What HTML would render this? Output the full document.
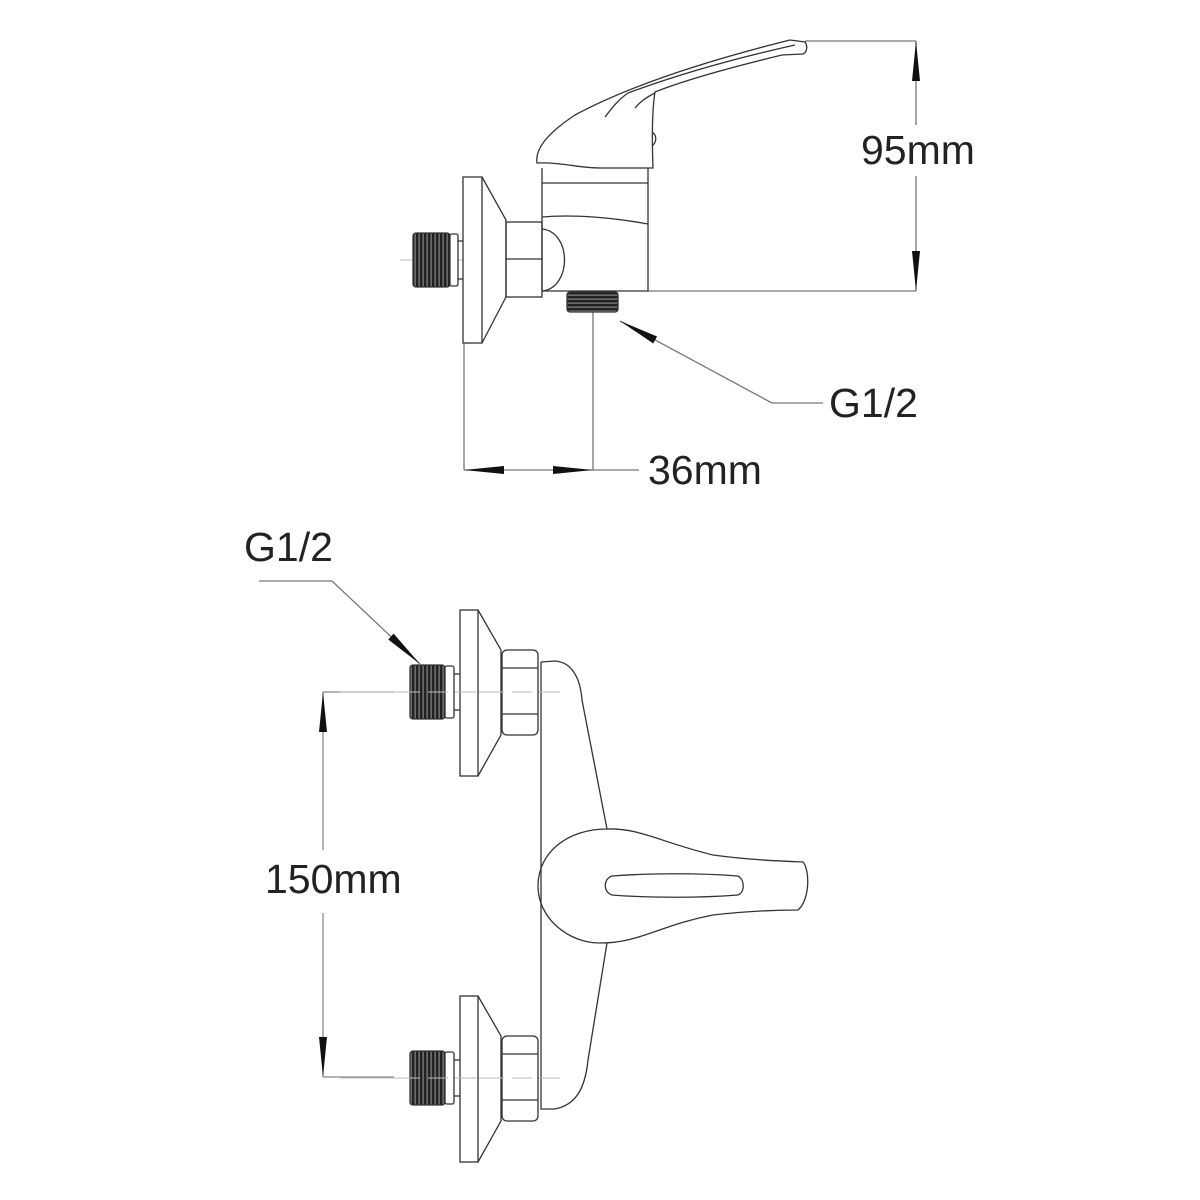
<!DOCTYPE html>
<html><head><meta charset="utf-8"><style>
html,body{margin:0;padding:0;background:#fff}
svg{display:block}
text{font-family:"Liberation Sans",sans-serif;font-size:41px;fill:#222}
</style></head><body>
<svg width="1200" height="1200" viewBox="0 0 1200 1200" xmlns="http://www.w3.org/2000/svg">
<defs>
<pattern id="vt" width="4" height="4" patternUnits="userSpaceOnUse"><rect width="4" height="4" fill="#222"/><rect x="2.6" width="1" height="4" fill="#999"/></pattern>
<pattern id="ht" width="4" height="4" patternUnits="userSpaceOnUse"><rect width="4" height="4" fill="#222"/><rect y="2.6" width="4" height="1" fill="#999"/></pattern>
<g id="fit" fill="none" stroke="#333" stroke-width="1.3">
  <line x1="340" y1="0" x2="560" y2="0" stroke="#bbb" stroke-width="1"/>
  <rect x="410" y="-27" width="35" height="54" rx="3" fill="url(#vt)"/>
  <rect x="445" y="-26" width="9" height="52" rx="2" fill="#fff"/>
  <line x1="454" y1="-18" x2="460" y2="-18"/><line x1="454" y1="18" x2="460" y2="18"/>
  <rect x="460" y="-82" width="18" height="166" fill="#fff"/>
  <polyline points="478,-82 501,-42 501,43 478,84"/>
  <rect x="502" y="-42" width="36" height="85" rx="5" fill="#fff"/>
  <line x1="502" y1="-24" x2="538" y2="-24"/><line x1="502" y1="22" x2="538" y2="22"/>
  <line x1="400" y1="0" x2="540" y2="0" stroke="#bbb" stroke-width="1" stroke-dasharray="20 8"/>
</g>
<marker id="ar" viewBox="0 0 40 10" refX="40" refY="5" markerWidth="40" markerHeight="10" markerUnits="userSpaceOnUse" orient="auto"><path d="M0,1 L40,5 L0,9 Z" fill="#111"/></marker>
</defs>

<!-- TOP VIEW -->
<g fill="none" stroke="#333" stroke-width="1.3">
  <line x1="805" y1="41" x2="916" y2="41" stroke="#777"/>
  <line x1="648" y1="291" x2="916" y2="291" stroke="#777"/>
  <line x1="916" y1="125" x2="916" y2="41" stroke="#777" marker-end="url(#ar)"/>
  <line x1="916" y1="176" x2="916" y2="291" stroke="#777" marker-end="url(#ar)"/>
  <line x1="464" y1="343" x2="464" y2="470" stroke="#777"/>
  <line x1="593" y1="312" x2="593" y2="470" stroke="#777"/>
  <line x1="593" y1="470" x2="639" y2="470" stroke="#777"/>
  <line x1="530" y1="470" x2="464" y2="470" stroke="#777" marker-end="url(#ar)"/>
  <line x1="530" y1="470" x2="593" y2="470" stroke="#777" marker-end="url(#ar)"/>
  <polyline points="823,403 772,403 620,321" stroke="#777" marker-end="url(#ar)"/>

  <line x1="400" y1="260" x2="470" y2="260" stroke="#ccc"/>
  <rect x="413" y="233" width="37" height="54" rx="3" fill="url(#vt)"/>
  <rect x="450" y="234" width="8" height="52" rx="2" fill="#fff"/>
  <line x1="458" y1="241" x2="463" y2="241"/><line x1="458" y1="279" x2="463" y2="279"/>
  <rect x="463" y="177" width="19" height="166" fill="#fff"/>
  <polyline points="482,177 506,220 506,297 482,343"/>
  <rect x="506" y="222" width="36" height="75"/>
  <line x1="506" y1="259" x2="542" y2="259"/>
  <path d="M542,229 C572,232 572,288 542,291"/>
  <path d="M542,168 L542,291 L648,291 L648,168"/>
  <line x1="542" y1="183" x2="648" y2="183"/>
  <path d="M542,217 C575,214 615,218 648,224"/>
  <rect x="567" y="292" width="51" height="20" rx="3" fill="url(#ht)"/>
  <path d="M537,163 C535,150 545,135 575,115 C640,80 730,55 790,40 L805,42 C808,46 807,52 803,54 L782,55 C720,70 680,82 655,92 C652,110 652,140 653,168 L600,168 C580,168 560,162 537,163 Z"/>
  <path d="M605,117 C612,108 618,100 628,93"/>
  <path d="M635,108 C640,102 645,98 655,93"/>
  <path d="M652,132 C657,135 657,142 652,146"/>
  <path d="M628,93 C690,70 750,55 795,45"/>
</g>
<text x="829" y="417">G1/2</text>
<text x="648" y="484">36mm</text>
<text x="861" y="164">95mm</text>

<!-- BOTTOM VIEW -->
<g fill="none" stroke="#333" stroke-width="1.3">
  <line x1="394" y1="692" x2="323" y2="692" stroke="#888"/>
  <line x1="394" y1="1077" x2="323" y2="1077" stroke="#888"/>
  <line x1="323" y1="850" x2="323" y2="692" stroke="#888" marker-end="url(#ar)"/>
  <line x1="323" y1="913" x2="323" y2="1077" stroke="#888" marker-end="url(#ar)"/>
  <polyline points="259,581 332,581 420,664" stroke="#777" marker-end="url(#ar)"/>

  <path d="M541,662 L541,1109 L555,1109 C575,1105 585,1090 588,1060 L607,943"/>
  <path d="M541,662 L555,661 C570,662 580,675 582,700 L607,829"/>
  <path d="M607,829 C640,828 660,842 713,855 C750,860 780,861 803,862 C810,870 810,900 798,910 C770,910 740,912 713,915 C660,925 640,943 600,943 C568,943 538,918 538,886 C538,852 568,829 607,829 Z"/>
  <path d="M612,876 C650,873 700,873 738,876 C745,880 745,892 738,895 C700,898 650,898 612,895 C603,892 603,879 612,876 Z"/>
</g>
<use href="#fit" transform="translate(0,692)"/>
<use href="#fit" transform="translate(0,1078)"/>
<text x="244" y="561">G1/2</text>
<text x="265" y="893">150mm</text>
</svg>
</body></html>
